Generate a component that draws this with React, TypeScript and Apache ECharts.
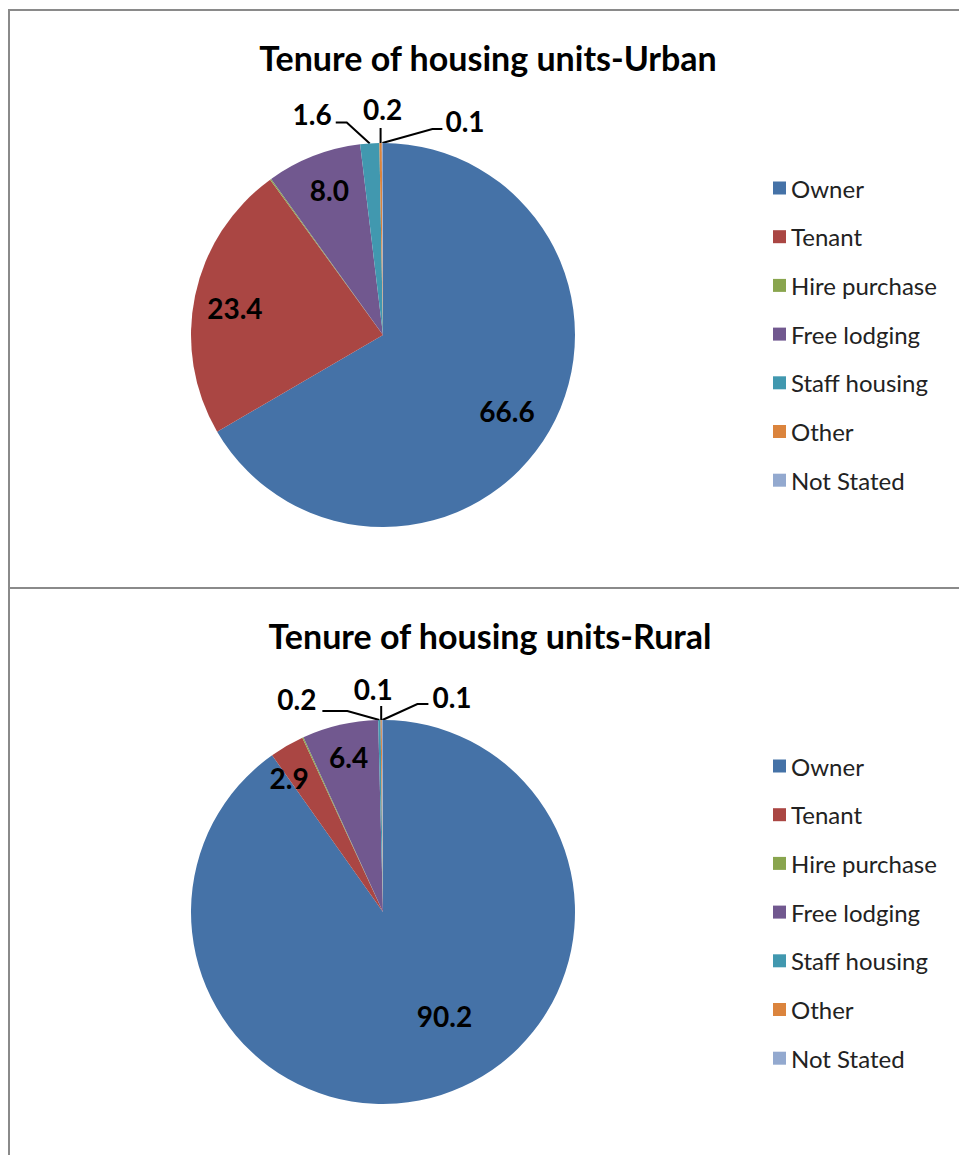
import React, { useEffect, useRef } from "react";
import * as echarts from "echarts";

const categories = ["Owner", "Tenant", "Hire purchase", "Free lodging", "Staff housing", "Other", "Not Stated"];
const urbanValues = [66.6, 23.4, 0.1, 8.0, 1.6, 0.2, 0.1];
const ruralValues = [90.2, 2.9, 0.1, 6.4, 0.2, 0.1, 0.1];
const urbanTitle = "Tenure of housing units-Urban";
const ruralTitle = "Tenure of housing units-Rural";
const colors = ["#4572A7", "#AA4643", "#89A54E", "#71588F", "#4198AF", "#DB843D", "#93A9CF"];

// label placement style per slice
const urbanLabelModes = ["inside", "inside", "none", "inside", "left", "up", "right"];
const ruralLabelModes = ["inside", "inside", "none", "inside", "left", "up", "right"];
// small nudges of inside labels (px)
const urbanNudges = [[-9, 0], [2, 5], [0, 0], [2, -2], [0, 0], [0, 0], [0, 0]];
const ruralNudges = [[15, -42], [-17, -1], [0, 0], [0, -5], [0, 0], [0, 0], [0, 0]];

const FONT = "Lato, 'Open Sans', sans-serif";

type Leader = { dx: number; dy: number; len: number; tx: number; ty: number; align: string };

const urbanLeaders: Record<string, Leader> = {
  left: { dx: -23, dy: -21, len: -11, tx: -4, ty: -8, align: "right" },
  up: { dx: 0, dy: -15, len: 0, tx: 2, ty: -19, align: "center" },
  right: { dx: 50, dy: -14, len: 10, tx: 3, ty: -8, align: "left" },
};
const ruralLeaders: Record<string, Leader> = {
  left: { dx: -32, dy: -9, len: -25, tx: -6, ty: -12, align: "right" },
  up: { dx: 0, dy: -14, len: 0, tx: -8, ty: -17, align: "center" },
  right: { dx: 35, dy: -16, len: 11, tx: 4, ty: -7, align: "left" },
};

const RADIUS = 192;
const urbanCenter = [383, 335];
const ruralCenter = [383, 912];

function makeLayout(center: number[], modes: string[], leaders: Record<string, Leader>, nudges: number[][]) {
  const [cx, cy] = center;
  return (p: any) => {
    const mode = modes[p.dataIndex];
    const r = p.labelRect;
    if (mode === "inside") {
      const lx = r.x + r.width / 2;
      const ly = r.y + r.height / 2;
      const k = 1.55;
      const n = nudges[p.dataIndex] || [0, 0];
      return {
        x: cx + (lx - cx) * k + n[0],
        y: cy + (ly - cy) * k + n[1],
        align: "center",
        verticalAlign: "middle",
      };
    }
    const L = leaders[mode];
    if (!L) return {};
    const pts = p.labelLinePoints;
    if (!pts || !pts.length) return {};
    const x0 = pts[0][0];
    const y0 = pts[0][1];
    const x1 = x0 + L.dx;
    const y1 = y0 + L.dy;
    const x2 = x1 + L.len;
    return {
      x: x2 + L.tx,
      y: y1 + L.ty,
      align: L.align,
      verticalAlign: "middle",
      labelLinePoints: [
        [x0, y0],
        [x1, y1],
        [x2, y1],
      ],
    };
  };
}

function buildData(values: number[], modes: string[]) {
  return values.map((v, i) => {
    const mode = modes[i];
    return {
      name: categories[i],
      value: v,
      label: { show: mode !== "none", position: mode === "inside" ? "inside" : "outside" },
      labelLine: { show: mode !== "none" && mode !== "inside" },
    };
  });
}

function pieSeries(
  values: number[],
  modes: string[],
  center: number[],
  leaders: Record<string, Leader>,
  nudges: number[][]
) {
  return {
    type: "pie",
    center,
    radius: RADIUS,
    startAngle: 90,
    clockwise: true,
    avoidLabelOverlap: false,
    silent: true,
    itemStyle: { borderWidth: 0 },
    label: {
      color: "#000",
      fontFamily: FONT,
      fontWeight: "bold",
      fontSize: 28,
      formatter: (p: any) => Number(p.value).toFixed(1),
    },
    labelLine: {
      show: true,
      length: 10,
      length2: 10,
      lineStyle: { color: "#000", width: 2 },
    },
    labelLayout: makeLayout(center, modes, leaders, nudges),
    data: buildData(values, modes),
  };
}

function legend(top: number) {
  return {
    orient: "vertical",
    left: 773,
    top,
    padding: 0,
    icon: "rect",
    itemWidth: 13,
    itemHeight: 13,
    itemGap: 24.7,
    selectedMode: false,
    textStyle: { fontFamily: FONT, fontSize: 24, color: "#222", lineHeight: 24 },
    data: categories,
  };
}

export default function App() {
  const ref = useRef<HTMLDivElement>(null);
  useEffect(() => {
    const chart = echarts.init(ref.current!, null, { renderer: "svg" });
    const border = { stroke: "#8a8a8a", lineWidth: 2 };
    chart.setOption({
      animation: false,
      color: colors,
      legend: [legend(176), legend(754)],
      graphic: [
        { type: "line", shape: { x1: 9, y1: 10, x2: 959, y2: 10 }, style: border },
        { type: "line", shape: { x1: 9, y1: 9, x2: 9, y2: 1155 }, style: border },
        { type: "line", shape: { x1: 9, y1: 588, x2: 959, y2: 588 }, style: border },
        {
          type: "text",
          x: 488,
          y: 57,
          style: { text: urbanTitle, align: "center", verticalAlign: "middle", font: `bold 34px ${FONT}`, fill: "#000" },
        },
        {
          type: "text",
          x: 490,
          y: 635,
          style: { text: ruralTitle, align: "center", verticalAlign: "middle", font: `bold 34px ${FONT}`, fill: "#000" },
        },
      ],
      series: [
        pieSeries(urbanValues, urbanLabelModes, urbanCenter, urbanLeaders, urbanNudges),
        pieSeries(ruralValues, ruralLabelModes, ruralCenter, ruralLeaders, ruralNudges),
      ],
    });
    return () => chart.dispose();
  }, []);
  return (
    <div
      ref={ref}
      style={{ position: "absolute", left: 0, top: 0, width: 959, height: 1155, background: "#fff" }}
    />
  );
}
